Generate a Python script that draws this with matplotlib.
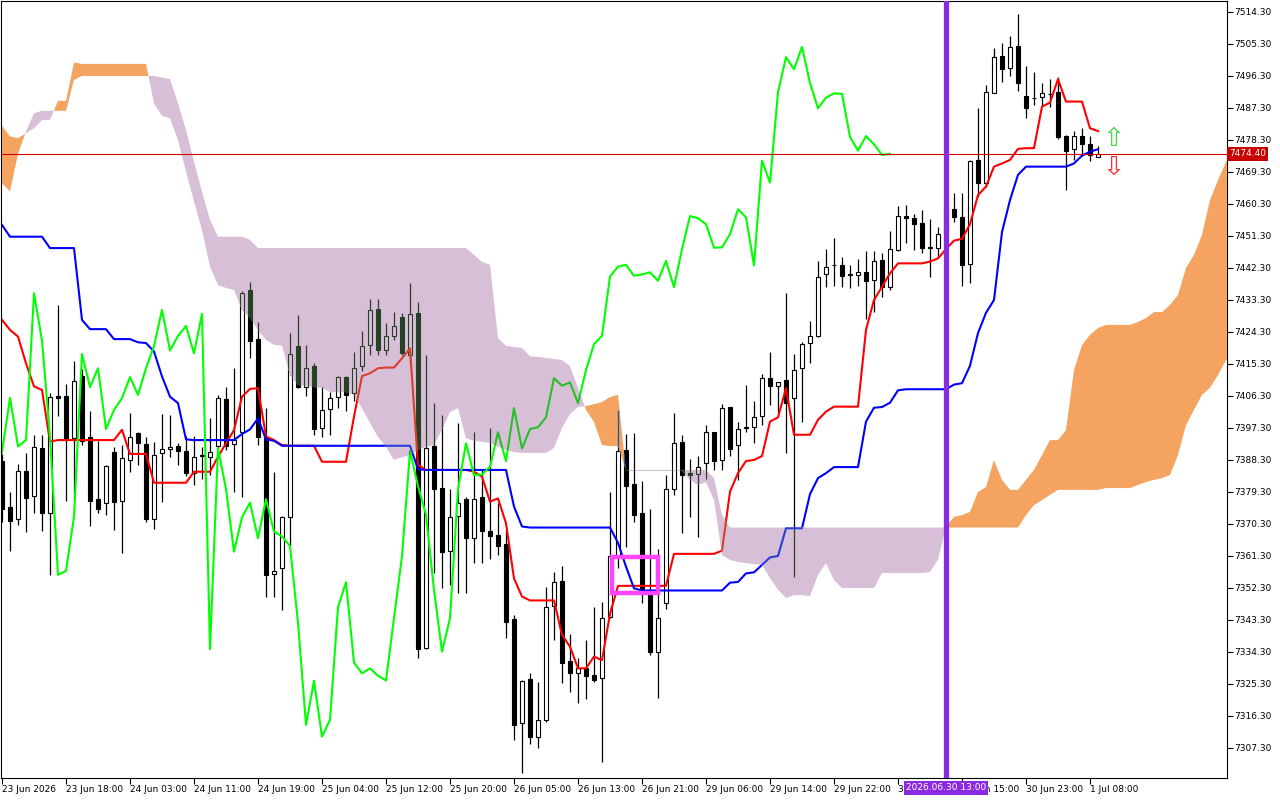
import numpy as np
import matplotlib
matplotlib.use("Agg")
import matplotlib.pyplot as plt
from matplotlib.path import Path
from matplotlib.patches import Rectangle
import matplotlib.transforms as mtransforms

# ---- candles (hourly) ----
opens = [7388.1, 7375.1, 7371.6, 7385.2, 7378.3, 7391.7, 7373.5, 7406.3, 7406.3, 7394.4,
         7412.0, 7394.7, 7377.4, 7376.1, 7390.6, 7376.9, 7388.3, 7395.8, 7392.7, 7371.6,
         7390.2, 7391.3, 7392.3, 7390.9, 7384.6, 7389.7, 7389.2, 7392.1, 7405.5, 7392.8,
         7396.3, 7436.1, 7422.4, 7394.4, 7356.2, 7357.9, 7372.2, 7420.4, 7408.8, 7414.8,
         7397.2, 7402.6, 7405.9, 7411.6, 7407.1, 7414.6, 7420.5, 7430.8, 7419.1, 7423.2,
         7428.6, 7417.9, 7429.6, 7335.4, 7392.3, 7380.4, 7362.8, 7372.5, 7377.3, 7366.3,
         7377.8, 7368.4, 7367.2, 7364.7, 7343.5, 7314.3, 7326.7, 7310.5, 7315.2, 7347.1,
         7354.3, 7331.8, 7328.3, 7329.7, 7327.8, 7326.9, 7344.2, 7361.0, 7391.1, 7381.6,
         7373.5, 7351.8, 7334.4, 7348.0, 7380.1, 7393.4, 7384.6, 7384.3, 7387.4, 7396.1,
         7388.3, 7403.1, 7392.4, 7397.3, 7397.5, 7400.7, 7411.3, 7409.2, 7410.8, 7405.7,
         7414.3, 7421.1, 7423.3, 7440.5, 7443.0, 7443.1, 7440.2, 7440.3, 7441.1, 7438.9,
         7444.6, 7437.0, 7447.4, 7456.9, 7456.3, 7454.9, 7447.9, 7447.9, 7451.8, 7458.8,
         7456.7, 7443.4, 7472.7, 7466.3, 7491.6, 7501.8, 7498.5, 7504.8, 7490.8, 7490.0,
         7490.3, 7491.1, 7491.7, 7479.4, 7475.7, 7479.3, 7477.2, 7473.6]
highs = [7390.0, 7379.3, 7387.2, 7390.3, 7395.2, 7395.2, 7407.1, 7431.9, 7409.7, 7416.2,
         7414.0, 7402.1, 7393.7, 7386.9, 7391.9, 7392.5, 7401.5, 7396.2, 7394.9, 7393.5,
         7401.3, 7401.0, 7393.0, 7395.1, 7395.1, 7392.0, 7400.1, 7406.6, 7408.7, 7414.1,
         7435.9, 7438.4, 7427.2, 7402.8, 7385.0, 7372.6, 7424.1, 7429.1, 7420.7, 7415.5,
         7408.9, 7407.4, 7411.9, 7411.9, 7418.8, 7424.6, 7433.5, 7433.5, 7426.8, 7430.0,
         7429.7, 7438.0, 7432.8, 7417.9, 7404.4, 7401.0, 7380.1, 7398.8, 7377.9, 7396.3,
         7385.5, 7397.2, 7376.3, 7368.4, 7344.7, 7326.4, 7328.5, 7326.0, 7352.7, 7356.9,
         7358.6, 7339.4, 7332.5, 7337.7, 7346.9, 7348.5, 7379.4, 7402.4, 7395.6, 7395.8,
         7382.5, 7374.5, 7363.2, 7384.1, 7401.5, 7395.3, 7388.5, 7389.4, 7398.2, 7396.2,
         7404.1, 7403.3, 7399.1, 7409.4, 7404.9, 7412.5, 7418.6, 7410.3, 7435.2, 7418.1,
         7421.4, 7427.5, 7444.4, 7447.6, 7450.7, 7445.5, 7443.0, 7444.8, 7447.1, 7447.1,
         7446.4, 7452.8, 7459.6, 7460.0, 7457.5, 7458.6, 7456.0, 7453.9, 7461.0, 7463.3,
         7463.5, 7472.7, 7487.4, 7493.8, 7504.1, 7505.5, 7507.6, 7513.7, 7499.1, 7497.4,
         7494.3, 7495.4, 7495.9, 7479.6, 7480.7, 7481.6, 7479.3, 7476.6]
lows = [7371.0, 7362.7, 7370.0, 7368.1, 7373.5, 7368.4, 7356.0, 7400.8, 7376.9, 7377.1,
        7392.5, 7369.8, 7373.5, 7372.9, 7368.6, 7362.1, 7385.0, 7386.9, 7371.0, 7368.8,
        7376.6, 7389.1, 7386.9, 7383.8, 7381.3, 7383.0, 7384.1, 7391.4, 7391.0, 7379.4,
        7378.0, 7416.9, 7392.5, 7349.7, 7349.9, 7346.1, 7364.1, 7408.5, 7406.3, 7395.4,
        7394.9, 7395.4, 7402.9, 7402.2, 7405.0, 7413.2, 7417.9, 7417.9, 7417.9, 7422.1,
        7417.9, 7415.0, 7332.5, 7335.1, 7356.6, 7352.2, 7353.2, 7350.8, 7351.0, 7359.3,
        7359.3, 7360.4, 7361.6, 7338.2, 7309.6, 7300.2, 7308.4, 7307.2, 7314.7, 7337.7,
        7325.5, 7323.0, 7319.9, 7321.0, 7326.0, 7303.3, 7343.9, 7358.0, 7363.9, 7371.0,
        7348.2, 7333.5, 7321.3, 7346.5, 7378.5, 7367.7, 7372.4, 7366.6, 7383.0, 7385.5,
        7385.5, 7389.3, 7382.7, 7396.3, 7393.2, 7398.2, 7403.8, 7401.5, 7390.4, 7355.3,
        7399.1, 7415.7, 7423.0, 7437.0, 7437.3, 7436.9, 7436.6, 7437.3, 7427.9, 7430.0,
        7434.1, 7436.1, 7447.0, 7449.4, 7447.4, 7446.6, 7439.9, 7445.0, 7449.0, 7455.1,
        7437.3, 7438.2, 7462.4, 7465.0, 7491.5, 7494.7, 7496.3, 7492.2, 7484.4, 7488.2,
        7487.9, 7487.7, 7478.5, 7464.1, 7472.7, 7473.8, 7472.5, 7473.5]
closes = [7374.5, 7371.2, 7385.2, 7377.7, 7392.0, 7373.5, 7405.9, 7405.7, 7394.6, 7410.5,
          7393.7, 7376.9, 7374.5, 7386.6, 7376.6, 7388.8, 7394.9, 7393.0, 7371.6, 7389.6,
          7391.3, 7392.0, 7390.7, 7384.6, 7389.2, 7389.5, 7390.5, 7405.8, 7392.1, 7393.9,
          7435.2, 7421.9, 7394.9, 7356.0, 7357.1, 7372.4, 7418.1, 7408.8, 7414.1, 7397.0,
          7402.4, 7405.7, 7411.6, 7406.6, 7414.1, 7420.4, 7430.5, 7419.1, 7423.2, 7426.0,
          7418.3, 7429.4, 7335.1, 7391.6, 7380.1, 7362.5, 7372.2, 7376.3, 7366.3, 7377.3,
          7368.2, 7366.8, 7364.1, 7342.6, 7313.8, 7326.2, 7310.5, 7315.2, 7346.9, 7353.9,
          7331.3, 7328.3, 7329.7, 7327.6, 7326.3, 7343.8, 7361.3, 7390.8, 7381.0, 7372.9,
          7351.8, 7334.4, 7343.8, 7380.1, 7393.0, 7384.1, 7384.2, 7386.4, 7396.1, 7388.0,
          7402.9, 7391.5, 7397.0, 7397.5, 7400.3, 7411.3, 7409.2, 7410.1, 7404.3, 7413.6,
          7420.9, 7423.2, 7439.9, 7442.7, 7443.2, 7440.1, 7440.5, 7441.1, 7438.7, 7444.3,
          7436.9, 7447.6, 7456.9, 7456.3, 7454.6, 7448.0, 7448.1, 7451.8, 7458.8, 7456.6,
          7443.0, 7472.5, 7466.3, 7491.7, 7501.6, 7498.2, 7504.5, 7494.3, 7487.2, 7490.2,
          7491.4, 7491.3, 7479.2, 7475.3, 7479.4, 7477.1, 7474.1, 7474.4]

# ---- Ichimoku lines ----
tenkan = [7427.7, 7424.9, 7423.0, 7415.5, 7409.0, 7408.0, 7393.5, 7393.9, 7393.9, 7393.9,
          7393.9, 7393.9, 7393.9, 7393.9, 7393.9, 7396.8, 7390.0, 7390.0, 7390.0, 7381.9,
          7381.9, 7381.9, 7381.9, 7381.9, 7385.0, 7385.0, 7385.0, 7389.2, 7393.0, 7396.7,
          7406.1, 7408.3, 7408.5, 7394.9, 7393.9, 7392.5, 7392.3, 7392.3, 7392.3, 7392.3,
          7387.8, 7387.8, 7387.8, 7387.8, 7400.5, 7411.9, 7412.7, 7414.1, 7414.3, 7414.3,
          7416.9, 7419.7, 7386.9, 7385.5, 7385.5, 7385.5, 7385.5, 7385.5, 7385.5, 7385.0,
          7383.6, 7376.6, 7377.5, 7370.5, 7355.0, 7349.9, 7348.8, 7348.8, 7348.8, 7348.8,
          7339.1, 7335.8, 7329.7, 7329.7, 7333.0, 7332.0, 7345.0, 7352.9, 7352.9, 7352.9,
          7352.9, 7352.9, 7352.9, 7352.9, 7361.9, 7361.9, 7361.9, 7361.9, 7361.9, 7361.9,
          7362.8, 7379.4, 7384.6, 7388.0, 7388.3, 7389.4, 7399.1, 7400.3, 7408.5, 7395.4,
          7395.4, 7395.4, 7399.6, 7401.9, 7403.3, 7403.3, 7403.3, 7403.3, 7424.9, 7433.3,
          7437.0, 7440.8, 7443.6, 7443.6, 7443.6, 7443.6, 7444.1, 7445.0, 7447.6, 7450.0,
          7450.5, 7454.6, 7462.8, 7465.2, 7470.8, 7471.7, 7472.7, 7475.8, 7476.0, 7476.0,
          7487.7, 7488.8, 7495.4, 7489.1, 7489.1, 7489.1, 7481.6, 7480.8]
kijun = [7454.4, 7451.1, 7451.1, 7451.1, 7451.1, 7451.1, 7447.9, 7447.9, 7447.9, 7447.9,
         7427.7, 7425.1, 7425.1, 7425.1, 7422.3, 7422.3, 7422.3, 7421.4, 7421.2, 7418.8,
         7411.8, 7406.1, 7404.3, 7394.1, 7393.9, 7393.9, 7393.9, 7393.9, 7393.9, 7393.9,
         7395.6, 7396.9, 7400.0, 7394.1, 7393.7, 7392.3, 7392.3, 7392.3, 7392.3, 7392.3,
         7392.3, 7392.3, 7392.3, 7392.3, 7392.3, 7392.3, 7392.3, 7392.3, 7392.3, 7392.3,
         7392.3, 7392.3, 7385.7, 7385.5, 7385.5, 7385.5, 7385.5, 7385.5, 7385.5, 7385.5,
         7385.5, 7385.5, 7385.5, 7385.5, 7375.2, 7369.6, 7369.3, 7369.3, 7369.3, 7369.3,
         7369.3, 7369.3, 7369.3, 7369.3, 7369.3, 7369.3, 7369.3, 7365.0, 7358.3, 7352.2,
         7351.6, 7351.6, 7351.6, 7351.6, 7351.6, 7351.6, 7351.6, 7351.6, 7351.6, 7351.6,
         7351.6, 7353.8, 7354.0, 7356.4, 7356.7, 7358.8, 7360.9, 7361.3, 7369.1, 7369.1,
         7369.1, 7378.7, 7383.2, 7384.6, 7386.3, 7386.3, 7386.3, 7386.3, 7399.1, 7403.0,
         7403.2, 7404.4, 7407.9, 7408.2, 7408.2, 7408.2, 7408.2, 7408.2, 7408.2, 7409.5,
         7409.9, 7414.8, 7424.0, 7429.7, 7433.3, 7452.4, 7461.4, 7468.5, 7470.8, 7470.8,
         7470.8, 7470.8, 7470.8, 7470.8, 7471.7, 7473.9, 7475.0, 7475.7]
# cloud, 26 bars ahead of the last candle
senkou_a = [7482.3, 7479.3, 7478.8, 7480.2, 7481.6, 7483.9, 7483.9, 7489.3, 7489.3, 7500.1,
            7499.7, 7499.7, 7499.7, 7499.7, 7499.7, 7499.7, 7499.7, 7499.7, 7499.7, 7488.6,
            7485.1, 7484.4, 7478.3, 7469.4, 7461.0, 7453.0, 7442.7, 7437.5, 7436.7, 7436.1,
            7430.5, 7428.3, 7424.9, 7422.1, 7420.7, 7420.4, 7412.2, 7409.4, 7409.1, 7408.8,
            7408.6, 7407.4, 7407.4, 7407.4, 7406.6, 7402.9, 7398.7, 7394.8, 7392.0, 7388.3,
            7389.1, 7389.7, 7391.1, 7392.0, 7392.5, 7396.8, 7401.8, 7402.9, 7394.4, 7393.7,
            7393.4, 7393.1, 7392.0, 7391.1, 7390.5, 7390.3, 7390.3, 7390.3, 7390.3, 7391.7,
            7397.3, 7401.2, 7403.2, 7403.5, 7404.0, 7404.6, 7406.0, 7406.6, 7385.2, 7385.2,
            7385.2, 7385.2, 7385.2, 7385.2, 7385.2, 7385.2, 7382.7, 7381.3, 7382.1, 7377.1,
            7361.6, 7360.2, 7359.6, 7359.3, 7359.0, 7358.8, 7355.1, 7351.8, 7349.5, 7350.3,
            7350.3, 7350.0, 7356.0, 7359.3, 7354.5, 7352.3, 7352.3, 7352.3, 7352.3, 7352.3,
            7356.5, 7356.5, 7356.5, 7356.5, 7356.5, 7356.5, 7356.8, 7360.2, 7369.5, 7372.3,
            7372.8, 7373.7, 7379.3, 7380.7, 7388.3, 7382.7, 7379.9, 7379.9, 7382.7, 7385.5,
            7389.7, 7393.9, 7393.9, 7396.7, 7413.6, 7420.6, 7423.5, 7425.4, 7426.3, 7426.3,
            7426.3, 7426.3, 7427.1, 7428.2, 7429.9, 7429.9, 7431.9, 7434.7, 7442.3, 7446.0,
            7451.6, 7461.4, 7467.0, 7472.1, 7475.5]
senkou_b = [7466.1, 7463.8, 7474.4, 7480.7, 7485.8, 7486.5, 7486.5, 7486.5, 7486.5, 7495.2,
            7496.3, 7496.3, 7496.3, 7496.3, 7496.3, 7496.3, 7496.3, 7496.3, 7496.3, 7496.3,
            7495.9, 7495.4, 7488.6, 7481.1, 7472.2, 7463.8, 7455.8, 7451.1, 7451.1, 7451.1,
            7451.1, 7450.2, 7447.9, 7447.9, 7447.9, 7447.9, 7447.9, 7447.9, 7447.9, 7447.9,
            7447.9, 7447.9, 7447.9, 7447.9, 7447.9, 7447.9, 7447.9, 7447.9, 7447.9, 7447.9,
            7447.9, 7447.9, 7447.9, 7447.9, 7447.9, 7447.9, 7447.9, 7447.9, 7447.9, 7446.0,
            7444.0, 7443.2, 7422.6, 7420.4, 7420.1, 7419.8, 7417.5, 7417.3, 7417.0, 7416.7,
            7416.4, 7414.7, 7408.6, 7402.4, 7399.0, 7392.5, 7392.2, 7392.2, 7385.5, 7385.5,
            7385.5, 7385.5, 7385.5, 7385.5, 7385.5, 7385.5, 7385.5, 7385.5, 7385.5, 7383.2,
            7372.8, 7369.3, 7369.3, 7369.3, 7369.3, 7369.3, 7369.3, 7369.3, 7369.3, 7369.3,
            7369.3, 7369.3, 7369.3, 7369.3, 7369.3, 7369.3, 7369.3, 7369.3, 7369.3, 7369.3,
            7369.3, 7369.3, 7369.3, 7369.3, 7369.3, 7369.3, 7369.3, 7369.3, 7369.3, 7369.3,
            7369.3, 7369.3, 7369.3, 7369.3, 7369.3, 7369.3, 7369.3, 7369.3, 7372.8, 7375.6,
            7377.0, 7378.5, 7379.9, 7379.9, 7379.9, 7379.9, 7379.9, 7379.9, 7380.4, 7380.4,
            7380.4, 7380.4, 7381.3, 7382.1, 7382.7, 7383.2, 7384.1, 7389.7, 7398.1, 7402.4,
            7406.6, 7408.6, 7412.2, 7416.4, 7419.2]

time_ticks = [0, 8, 16, 24, 32, 40, 48, 56, 64, 72, 80, 88, 96, 104, 112, 120, 128, 136]
time_labels = ["23 Jun 2026", "23 Jun 18:00", "24 Jun 03:00", "24 Jun 11:00", "24 Jun 19:00",
               "25 Jun 04:00", "25 Jun 12:00", "25 Jun 20:00", "26 Jun 05:00", "26 Jun 13:00",
               "26 Jun 21:00", "29 Jun 06:00", "29 Jun 14:00", "29 Jun 22:00", "30 Jun 07:00",
               "30 Jun 15:00", "30 Jun 23:00", "1 Jul 08:00"]
price_ticks = [7307.3 + 9 * k for k in range(24)]
last_price = 7474.40
marker_bar = 118
marker_text = "2026.06.30 13:00"

o, h, l, c = map(np.array, (opens, highs, lows, closes))
n = len(c)
x = np.arange(n)
sa, sb = np.array(senkou_a), np.array(senkou_b)
xc = np.arange(len(sa))

THISTLE = (216, 191, 216)
SANDY = (244, 164, 96)


def xnor(col, cloud):
    # MT5 paints the kumo in a "not xor" mode over what is below it
    r = [255 - (a ^ b) for a, b in zip(col, cloud)]
    return tuple(v / 255 for v in r)


def plain(col):
    return tuple(v / 255 for v in col)


def draw_layer(ax, tint, z, clip=None):
    arts = []
    up = c >= o
    wick = ax.vlines(x, l, h, colors=[tint((0, 0, 0))], lw=0.9, zorder=z)
    arts.append(wick)
    bot = np.minimum(o, c)
    hgt = np.maximum(np.abs(c - o), 0.05)
    faces = [tint((255, 255, 255)) if u else tint((0, 0, 0)) for u in up]
    bars = ax.bar(x, hgt, bottom=bot, width=0.62, color=faces,
                  edgecolor=tint((0, 0, 0)), linewidth=0.8, zorder=z + 0.1)
    arts.extend(bars.patches)
    arts += ax.plot(x, tenkan, color=tint((255, 0, 0)), lw=1.5, zorder=z + 0.2)
    arts += ax.plot(x, kijun, color=tint((0, 0, 255)), lw=1.5, zorder=z + 0.2)
    arts += ax.plot(x[:n - 26], c[26:], color=tint((0, 255, 0)), lw=1.5, zorder=z + 0.2)
    if clip is not None:
        for a in arts:
            a.set_clip_path(clip, ax.transData)


fig = plt.figure(figsize=(12.8, 8), dpi=100)
ax = fig.add_axes([1 / 1280, 22 / 800, 1226 / 1280, 777 / 800])
ax.set_xlim(-0.125, 153.125)
ax.set_ylim(7298.86, 7517.39)

draw_layer(ax, plain, 2)

bull = sa >= sb
fill_up = ax.fill_between(xc, sa, sb, where=bull, interpolate=True,
                          color=plain(SANDY), lw=0, zorder=3)
fill_dn = ax.fill_between(xc, sa, sb, where=~bull, interpolate=True,
                          color=plain(THISTLE), lw=0, zorder=3)

for coll, cc in ((fill_up, SANDY), (fill_dn, THISTLE)):
    paths = coll.get_paths()
    if len(paths):
        cp = Path.make_compound_path(*paths)
        draw_layer(ax, lambda col, cc=cc: xnor(col, cc), 4, clip=cp)

# current price line
ax.axhline(last_price, color="#D00000", lw=0.8, zorder=6)

# vertical marker
ax.axvline(marker_bar, color="#8A2BE2", lw=3.8, zorder=7)

# magenta box
ax.add_patch(Rectangle((76.2, 7350.9), 5.8, 10.1, fill=False, ec="#FF44FF", lw=3.2, zorder=7))

# arrows to the right of the last bar
ax.text(139, 7478.6, "\u21e7", color="#44DD44", fontsize=19, ha="center", va="center", zorder=7)
ax.text(139, 7470.6, "\u21e9", color="#FF3030", fontsize=19, ha="center", va="center", zorder=7)

# axes styling
for s in ax.spines.values():
    s.set_color("black")
    s.set_linewidth(0.8)
ax.yaxis.tick_right()
ax.set_yticks(price_ticks)
ax.set_yticklabels(["%.2f" % v for v in price_ticks])
ax.tick_params(axis="y", direction="out", length=4, width=0.8, labelsize=6.5, pad=1)
ax.set_xticks(time_ticks)
ax.set_xticklabels(time_labels)
ax.tick_params(axis="x", direction="out", length=4, width=0.8, labelsize=6.5, pad=1)
for lab in ax.get_xticklabels():
    lab.set_horizontalalignment("left")

trans_y = mtransforms.blended_transform_factory(ax.transAxes, ax.transData)
ax.text(1.0015, last_price, "7474.40", transform=trans_y, color="white", fontsize=6.5,
        ha="left", va="center", zorder=10, clip_on=False,
        bbox=dict(boxstyle="square,pad=0.25", fc="#C80000", ec="none"))

trans_x = mtransforms.blended_transform_factory(ax.transData, ax.transAxes)
ax.text(marker_bar, -0.007, marker_text, transform=trans_x, color="white", fontsize=6.5,
        ha="center", va="top", zorder=10, clip_on=False,
        bbox=dict(boxstyle="square,pad=0.25", fc="#8A2BE2", ec="none"))

fig.savefig("out.png", dpi=100, facecolor="white")
